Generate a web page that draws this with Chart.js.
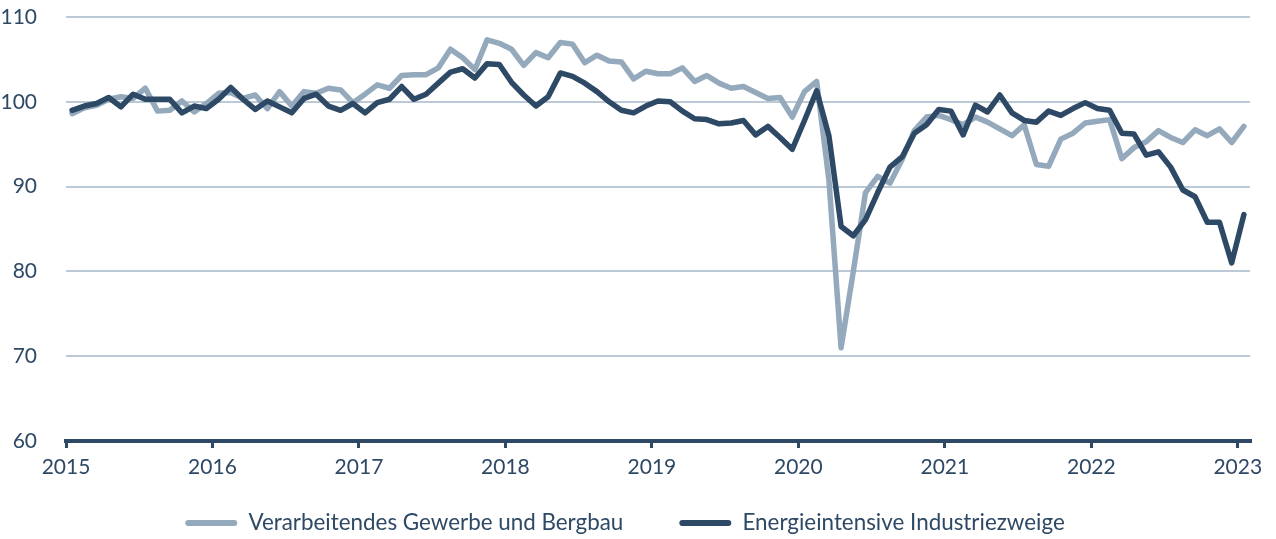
<!DOCTYPE html>
<html lang="de">
<head>
<meta charset="utf-8">
<title>Produktion: Verarbeitendes Gewerbe und energieintensive Industriezweige</title>
<script src="https://cdn.jsdelivr.net/npm/chart.js@4.4.1/dist/chart.umd.min.js"></script>
<style>
    html, body { margin: 0; padding: 0; background: #ffffff; }
    #wrap { width: 1276px; height: 539px; }
</style>
</head>
<body>
<div id="wrap"><canvas id="produktion-chart" width="1276" height="539"></canvas></div>
<script>
// Jahresbeschriftungen der x-Achse (Monatsdaten Jan 2015 - Jan 2023)
const jahre = ['2015', '2016', '2017', '2018', '2019', '2020', '2021', '2022', '2023'];

// Verarbeitendes Gewerbe und Bergbau (Index)
const verarbeitendesGewerbe = [
    98.6, 99.3, 99.6, 100.3, 100.6, 100.4, 101.6, 98.9, 99.0, 100.1, 98.8, 99.8,        // 2015
    101.0, 101.1, 100.4, 100.8, 99.2, 101.2, 99.5, 101.2, 101.0, 101.6, 101.4, 99.9,    // 2016
    100.9, 102.0, 101.6, 103.1, 103.2, 103.2, 104.0, 106.2, 105.2, 103.8, 107.3, 106.9, // 2017
    106.2, 104.3, 105.8, 105.2, 107.0, 106.8, 104.6, 105.5, 104.8, 104.7, 102.7, 103.6, // 2018
    103.3, 103.3, 104.0, 102.4, 103.1, 102.2, 101.6, 101.8, 101.1, 100.4, 100.5, 98.2,  // 2019
    101.2, 102.4, 90.8, 71.0, 80.0, 89.3, 91.2, 90.4, 93.2, 96.6, 98.2, 98.4,           // 2020
    97.9, 97.3, 98.2, 97.6, 96.8, 96.0, 97.3, 92.6, 92.4, 95.6, 96.3, 97.5,             // 2021
    97.7, 97.9, 93.3, 94.6, 95.3, 96.6, 95.8, 95.2, 96.7, 96.0, 96.8, 95.2,             // 2022
    97.1                                                                                // 2023
];

// Energieintensive Industriezweige (Index)
const energieintensiv = [
    99.0, 99.5, 99.8, 100.5, 99.4, 100.9, 100.3, 100.3, 100.3, 98.7, 99.5, 99.2,        // 2015
    100.3, 101.7, 100.3, 99.1, 100.1, 99.4, 98.7, 100.4, 100.9, 99.5, 99.0, 99.8,       // 2016
    98.7, 99.9, 100.3, 101.8, 100.3, 100.9, 102.2, 103.5, 103.9, 102.8, 104.5, 104.4,   // 2017
    102.3, 100.8, 99.5, 100.6, 103.4, 103.0, 102.2, 101.2, 100.0, 99.0, 98.7, 99.5,     // 2018
    100.1, 100.0, 98.9, 98.0, 97.9, 97.4, 97.5, 97.8, 96.1, 97.1, 95.8, 94.4,           // 2019
    97.8, 101.3, 96.0, 85.3, 84.2, 86.1, 89.3, 92.3, 93.5, 96.3, 97.3, 99.1,            // 2020
    98.9, 96.1, 99.6, 98.8, 100.8, 98.7, 97.8, 97.6, 98.9, 98.4, 99.2, 99.9,            // 2021
    99.2, 99.0, 96.3, 96.2, 93.7, 94.1, 92.3, 89.6, 88.8, 85.8, 85.8, 81.0,             // 2022
    86.7                                                                                // 2023
];

// Farben
const farbeDunkel = '#2e4965';
const farbeHell = '#94a9bc';
const farbeGitter = '#bccad7';
const farbeText = '#2e4965';
const schrift = 'Lato, "Open Sans", sans-serif';

// Monatsindex -> Punkt (Monat i liegt in der Mitte seines Intervalls)
function zuPunkten(werte) {
    return werte.map((v, i) => ({ x: i, y: v }));
}

// Legende: feste Hoehe im Layout, Text mittig bei y = 523
// (padding dient nur dem Abstand zwischen den Eintraegen)
const legendenLage = {
    id: 'legendenLage',
    beforeInit(chart) {
        const fitOrig = chart.legend.fit;
        chart.legend.fit = function () {
            fitOrig.call(this);
            this.height = 50;
        };
    },
    afterLayout(chart) {
        const lg = chart.legend;
        const pad = lg.options.labels.padding;
        const schriftGroesse = lg.options.labels.font.size;
        lg.top = 523 - pad - schriftGroesse / 2;
        lg.bottom = chart.height;
        lg.height = lg.bottom - lg.top;
    }
};

const ctx = document.getElementById('produktion-chart').getContext('2d');

new Chart(ctx, {
    type: 'line',
    data: {
        datasets: [
            {
                label: 'Verarbeitendes Gewerbe und Bergbau',
                data: zuPunkten(verarbeitendesGewerbe),
                borderColor: farbeHell,
                backgroundColor: farbeHell,
                borderWidth: 5.5,
                pointRadius: 0,
                tension: 0,
                borderJoinStyle: 'round',
                borderCapStyle: 'round',
                order: 1
            },
            {
                label: 'Energieintensive Industriezweige',
                data: zuPunkten(energieintensiv),
                borderColor: farbeDunkel,
                backgroundColor: farbeDunkel,
                borderWidth: 5.5,
                pointRadius: 0,
                tension: 0,
                borderJoinStyle: 'round',
                borderCapStyle: 'round',
                order: 0
            }
        ]
    },
    options: {
        responsive: false,
        animation: false,
        layout: {
            padding: { top: 17, right: 26, bottom: 0, left: 0 }
        },
        plugins: {
            title: { display: false },
            tooltip: { enabled: false },
            legend: {
                display: true,
                position: 'bottom',
                labels: {
                    font: { family: schrift, size: 22.4 },
                    color: farbeText,
                    boxWidth: 52,
                    boxHeight: 6,
                    useBorderRadius: true,
                    borderRadius: 3,
                    padding: 56,
                    sort: (a, b) => a.datasetIndex - b.datasetIndex,
                    generateLabels(chart) {
                        const items = Chart.defaults.plugins.legend.labels.generateLabels(chart);
                        items.forEach((it) => {
                            it.lineWidth = 0;
                            it.fillStyle = it.strokeStyle;
                        });
                        return items;
                    }
                }
            }
        },
        scales: {
            x: {
                type: 'linear',
                min: -0.5,
                max: 96.5,
                afterBuildTicks(scale) {
                    // Jahresstriche an den Monatsgrenzen
                    scale.ticks = jahre.map((_, k) => ({ value: k * 12 - 0.5 }));
                },
                afterFit(scale) {
                    scale.height = 48;
                },
                border: { display: true, color: farbeDunkel, width: 4 },
                grid: {
                    display: true,
                    drawOnChartArea: false,
                    drawTicks: true,
                    tickLength: 7,
                    lineWidth: 3,
                    color: farbeDunkel
                },
                ticks: {
                    autoSkip: false,
                    maxRotation: 0,
                    padding: 7,
                    color: farbeText,
                    font: { family: schrift, size: 21 },
                    callback: (value, index) => jahre[index]
                }
            },
            y: {
                min: 60,
                max: 110,
                afterFit(scale) {
                    scale.width = 66;
                },
                border: { display: false },
                grid: {
                    drawTicks: true,
                    tickLength: 25,
                    tickColor: 'rgba(0,0,0,0)',
                    lineWidth: 2,
                    color: (c) => (c.tick && c.tick.value === 60 ? 'rgba(0,0,0,0)' : farbeGitter)
                },
                ticks: {
                    stepSize: 10,
                    padding: 4,
                    color: farbeText,
                    font: { family: schrift, size: 21 }
                }
            }
        }
    },
    plugins: [legendenLage]
});
</script>
</body>
</html>
